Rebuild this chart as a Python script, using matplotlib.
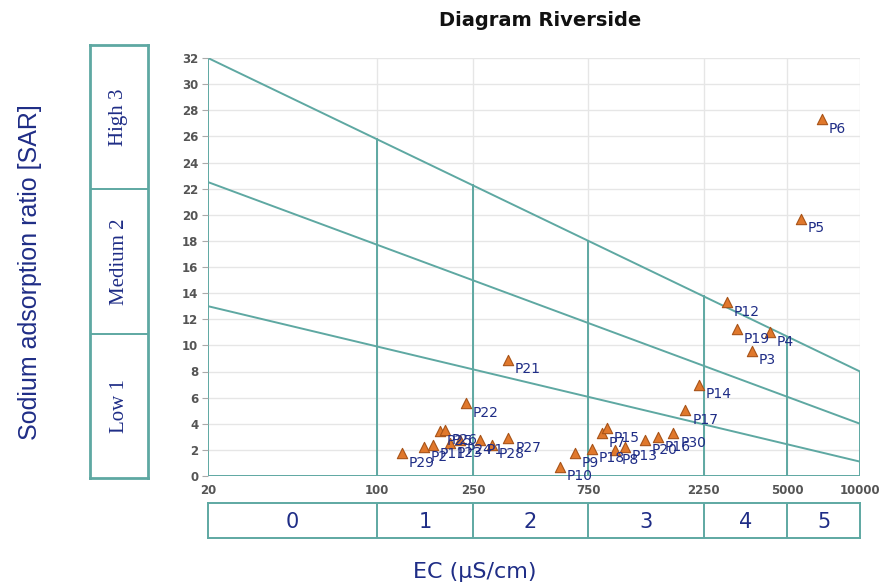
import numpy as np
import matplotlib
matplotlib.use('Agg')
import matplotlib.pyplot as plt

# Sample data
names = ['P1', 'P2', 'P3', 'P4', 'P5', 'P6', 'P7', 'P8', 'P9', 'P10',
         'P11', 'P12', 'P13', 'P14', 'P15', 'P16', 'P17', 'P18', 'P19', 'P20',
         'P21', 'P22', 'P23', 'P24', 'P25', 'P26', 'P27', 'P28', 'P29', 'P30']
ec = [267, 156, 3570, 4240, 5690, 6960, 852, 968, 661, 573,
      171, 2810, 1064, 2150, 894, 1460, 1890, 775, 3100, 1290,
      349, 234, 200, 221, 182, 191, 350, 300, 127, 1687]
sar = [2.75, 2.2, 9.6, 11.0, 19.7, 27.3, 3.27, 2.0, 1.74, 0.71,
       2.4, 13.3, 2.25, 7.0, 3.65, 3.0, 5.05, 2.1, 11.25, 2.75,
       8.9, 5.6, 2.5, 2.75, 3.45, 3.5, 2.9, 2.4, 1.76, 3.27]

# Diagram boundaries
ec_ticks = [20, 100, 250, 750, 2250, 5000, 10000]
sar_left = [32, 22.5, 13]     # boundary lines at EC = 20
sar_right = [8, 4, 1.1]       # boundary lines at EC = 10000
ec_classes = ['0', '1', '2', '3', '4', '5']
sar_classes = ['Low 1', 'Medium 2', 'High 3']

teal = '#5ea8a2'
navy = '#1f2d86'
grid_gray = '#e6e6e6'
tick_gray = '#555555'

fig = plt.figure(figsize=(8.84, 5.86), dpi=100)
W, H = 884, 586


def px_axes(x0, y0, x1, y1):
    return fig.add_axes([x0 / W, 1 - y1 / H, (x1 - x0) / W, (y1 - y0) / H])


ax = px_axes(208, 58, 860, 476)
ax.set_xscale('log')
ax.set_xlim(20, 10000)
ax.set_ylim(0, 32)
for s in ax.spines.values():
    s.set_visible(False)

# grid
for y in range(2, 33, 2):
    ax.axhline(y, color=grid_gray, lw=1, zorder=0)
for x in ec_ticks[1:]:
    ax.axvline(x, color=grid_gray, lw=1, zorder=0)

# boundary lines
for a, b in zip(sar_left, sar_right):
    ax.plot([20, 10000], [a, b], color=teal, lw=1.4, zorder=1)


def top_line(x):
    t = np.log10(x / 20) / np.log10(10000 / 20)
    return sar_left[0] + (sar_right[0] - sar_left[0]) * t


for x in ec_ticks:
    ax.plot([x, x], [0, top_line(x)], color=teal, lw=1.4, zorder=1)
ax.plot([20, 10000], [0, 0], color=teal, lw=1.4, zorder=1)

# points
ax.scatter(ec, sar, marker='^', s=55, color='#e0782c', edgecolor='#a85318',
           linewidth=0.8, zorder=3)
for n, x, y in zip(names, ec, sar):
    ax.annotate(n, (x, y), xytext=(5, -7), textcoords='offset points',
                fontsize=10, color=navy, ha='left', va='center', zorder=4)

ax.set_xticks(ec_ticks)
ax.set_xticklabels([str(t) for t in ec_ticks])
ax.xaxis.set_minor_locator(matplotlib.ticker.NullLocator())
ax.set_yticks(range(0, 33, 2))
ax.tick_params(axis='x', length=0, pad=6, labelsize=8.5, labelcolor=tick_gray)
ax.tick_params(axis='y', length=4, color='#aaaaaa', pad=3, labelsize=8.5,
               labelcolor=tick_gray)
for lab in ax.get_xticklabels() + ax.get_yticklabels():
    lab.set_fontweight('bold')

# EC class box
bx = px_axes(208, 503, 860, 538)
bx.set_xscale('log')
bx.set_xlim(20, 10000)
bx.set_ylim(0, 1)
bx.xaxis.set_minor_locator(matplotlib.ticker.NullLocator())
bx.set_xticks([])
bx.set_yticks([])
bx.tick_params(which='both', length=0)
for s in bx.spines.values():
    s.set_color(teal)
    s.set_linewidth(1.4)
for x in ec_ticks[1:-1]:
    bx.axvline(x, color=teal, lw=1.4)
for i, c in enumerate(ec_classes):
    xc = np.sqrt(ec_ticks[i] * ec_ticks[i + 1])
    bx.text(xc, 0.45, c, ha='center', va='center', fontsize=15, color=navy)

# SAR class box
lx = px_axes(90, 45, 148, 478)
lx.set_xlim(0, 1)
lx.set_ylim(0, 3)
lx.set_xticks([])
lx.set_yticks([])
for s in lx.spines.values():
    s.set_color(teal)
    s.set_linewidth(2)
for y in [1, 2]:
    lx.axhline(y, color=teal, lw=1.4)
for i, c in enumerate(sar_classes):
    lx.text(0.5, i + 0.5, c, rotation=90, ha='center', va='center',
            fontsize=15, color=navy, family=['Liberation Serif', 'DejaVu Serif'])

fig.text(30 / W, 1 - 272 / H, 'Sodium adsorption ratio [SAR]', rotation=90,
         ha='center', va='center', fontsize=18, color=navy,
         family=['Liberation Sans Narrow', 'Liberation Sans', 'DejaVu Sans'])
fig.text(475 / W, 1 - 572 / H, 'EC (\u00b5S/cm)', ha='center', va='center',
         fontsize=16, color=navy)
fig.text(540 / W, 1 - 20 / H, 'Diagram Riverside', ha='center', va='center',
         fontsize=14, fontweight='bold', color='#111111')

fig.savefig('out.png', dpi=100, facecolor='white')
